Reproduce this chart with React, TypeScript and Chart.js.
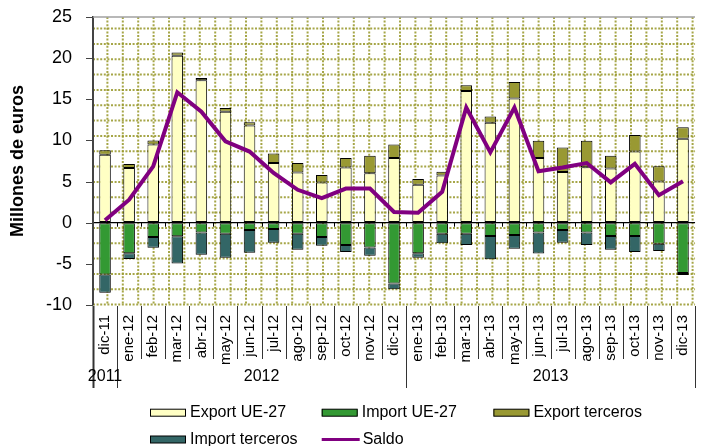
import React, { useEffect, useRef } from 'react';
import { Chart, registerables } from 'chart.js';

Chart.register(...registerables);

const categories = [
  'dic-11', 'ene-12', 'feb-12', 'mar-12', 'abr-12', 'may-12', 'jun-12', 'jul-12', 'ago-12',
  'sep-12', 'oct-12', 'nov-12', 'dic-12', 'ene-13', 'feb-13', 'mar-13', 'abr-13', 'may-13',
  'jun-13', 'jul-13', 'ago-13', 'sep-13', 'oct-13', 'nov-13', 'dic-13',
];

const exportUE = [8.25, 6.65, 9.5, 20.3, 17.3, 13.5, 11.8, 7.25, 6.1, 4.9, 6.7, 6.0, 7.85, 4.6, 5.75, 16.0, 12.15, 15.1, 7.85, 6.15, 6.75, 6.6, 8.65, 5.0, 10.2];
const exportTerceros = [0.55, 0.5, 0.5, 0.4, 0.3, 0.45, 0.4, 1.15, 1.15, 0.9, 1.15, 2.15, 1.65, 0.7, 0.45, 0.7, 0.75, 2.0, 2.1, 3.0, 3.2, 1.55, 2.0, 1.85, 1.4];
const importUE = [-6.3, -3.7, -1.75, -1.65, -1.2, -1.35, -0.9, -0.75, -1.35, -1.75, -2.7, -3.0, -7.4, -3.7, -1.35, -1.35, -1.6, -1.5, -1.2, -0.9, -1.2, -1.6, -1.6, -2.55, -6.1];
const importTerceros = [-2.2, -0.7, -1.3, -3.3, -2.7, -2.9, -2.75, -1.7, -1.95, -1.05, -0.85, -1.0, -0.7, -0.55, -1.15, -1.35, -2.85, -1.65, -2.55, -1.55, -1.5, -1.7, -1.95, -0.9, -0.25];
const saldo = [0.3, 2.8, 6.85, 15.85, 13.5, 9.9, 8.65, 6.05, 4.0, 3.0, 4.15, 4.15, 1.3, 1.2, 3.75, 14.0, 8.55, 14.0, 6.25, 6.7, 7.25, 4.9, 7.15, 3.35, 5.05];

const yTicksMin = -10;
const yTicksMax = 25;
const yTickStep = 5;

const FONT = "'Liberation Sans', Arial, Helvetica, sans-serif";

// year groups derived from the category labels
function yearGroups(labels: string[]) {
  const groups: { year: string; start: number; end: number }[] = [];
  labels.forEach((l, i) => {
    const y = '20' + l.split('-')[1];
    const last = groups[groups.length - 1];
    if (last && last.year === y) last.end = i;
    else groups.push({ year: y, start: i, end: i });
  });
  return groups;
}

const decorPlugin = {
  id: 'decor',
  beforeDraw(chart: any) {
    const { ctx, chartArea: a, width, height } = chart;
    ctx.save();
    ctx.fillStyle = '#ffffff';
    ctx.fillRect(0, 0, width, height);
    // dotted background pattern
    ctx.strokeStyle = 'rgba(150,150,40,0.85)';
    ctx.lineWidth = 2;
    ctx.setLineDash([2, 1.6]);
    for (let x = a.left + 14.4; x < a.right; x += 15.4) {
      ctx.beginPath();
      ctx.moveTo(x, a.top);
      ctx.lineTo(x, a.bottom);
      ctx.stroke();
    }
    for (let y = a.top + 11.6; y <= a.bottom + 0.5; y += 15.33) {
      ctx.beginPath();
      ctx.moveTo(a.left, y);
      ctx.lineTo(a.right, y);
      ctx.stroke();
    }
    ctx.restore();
  },
  afterDraw(chart: any) {
    const { ctx, chartArea: a } = chart;
    const xs = chart.scales.x;
    const ys = chart.scales.y;
    const n = chart.data.labels.length;
    const step = xs.getPixelForValue(1) - xs.getPixelForValue(0);
    const boundary = (k: number) => xs.getPixelForValue(k) - step / 2;
    const y0 = ys.getPixelForValue(0);
    ctx.save();
    // top border
    ctx.strokeStyle = '#a0a0a0';
    ctx.lineWidth = 1.5;
    ctx.beginPath();
    ctx.moveTo(a.left, a.top);
    ctx.lineTo(a.right, a.top);
    ctx.stroke();
    // y tick marks (outside)
    ctx.strokeStyle = '#444';
    ctx.lineWidth = 1;
    ys.ticks.forEach((t: any) => {
      const y = Math.round(ys.getPixelForValue(t.value)) + 0.5;
      ctx.beginPath();
      ctx.moveTo(a.left - 7, y);
      ctx.lineTo(a.left, y);
      ctx.stroke();
    });
    // small ticks below zero line
    ctx.strokeStyle = '#000';
    ctx.lineWidth = 1;
    for (let k = 1; k < n; k++) {
      const x = Math.round(boundary(k)) + 0.5;
      ctx.beginPath();
      ctx.moveTo(x, y0);
      ctx.lineTo(x, y0 + 4);
      ctx.stroke();
    }
    // category separators & year separators
    const groups = yearGroups(chart.data.labels);
    const yearBounds = new Set<number>();
    groups.forEach((g) => { yearBounds.add(g.start); yearBounds.add(g.end + 1); });
    ctx.strokeStyle = '#333';
    for (let k = 0; k <= n; k++) {
      const x = Math.round(boundary(k)) + 0.5;
      ctx.lineWidth = k === 0 ? 2 : 1;
      ctx.beginPath();
      ctx.moveTo(x, a.bottom + 1);
      ctx.lineTo(x, yearBounds.has(k) ? a.bottom + 83 : a.bottom + 54);
      ctx.stroke();
    }
    // year labels
    ctx.fillStyle = '#000';
    ctx.font = `16px ${FONT}`;
    ctx.textAlign = 'center';
    ctx.textBaseline = 'middle';
    groups.forEach((g) => {
      const cx = (boundary(g.start) + boundary(g.end + 1)) / 2;
      ctx.fillText(g.year, cx, a.bottom + 72);
    });
    // legend (column aligned, two rows)
    const ds = chart.data.datasets;
    const colLeft = 150;
    const colW = 171.7;
    const rowY = [412.7, 439.5];
    const perRow = 3;
    ctx.font = `16px ${FONT}`;
    ctx.textAlign = 'left';
    ds.forEach((d: any, i: number) => {
      const r = Math.floor(i / perRow);
      const c = i % perRow;
      const bx = colLeft + c * colW;
      const cy = rowY[r];
      if (d.type === 'line') {
        ctx.strokeStyle = d.borderColor;
        ctx.lineWidth = 3;
        ctx.beginPath();
        ctx.moveTo(bx, cy);
        ctx.lineTo(bx + 38, cy);
        ctx.stroke();
        ctx.fillStyle = '#000';
        ctx.fillText(d.label, bx + 41, cy);
      } else {
        ctx.fillStyle = d.backgroundColor;
        ctx.fillRect(bx, cy - 3.5, 36, 7);
        ctx.strokeStyle = '#000';
        ctx.lineWidth = 1;
        ctx.strokeRect(bx + 0.5, cy - 3.5, 35, 7);
        ctx.fillStyle = '#000';
        ctx.fillText(d.label, bx + 40, cy);
      }
    });
    ctx.restore();
  },
};

export default function App() {
  const ref = useRef<HTMLCanvasElement>(null);
  useEffect(() => {
    const canvas = ref.current!;
    Chart.defaults.font.family = FONT;
    Chart.defaults.color = '#000';
    const barCommon = { borderColor: '#000', borderWidth: 1, borderSkipped: false, order: 1 };
    const chart = new Chart(canvas, {
      type: 'bar',
      data: {
        labels: categories,
        datasets: [
          { label: 'Export UE-27', data: exportUE, backgroundColor: '#ffffc4', ...barCommon } as any,
          { label: 'Import UE-27', data: importUE, backgroundColor: '#339933', ...barCommon } as any,
          { label: 'Export terceros', data: exportTerceros, backgroundColor: '#999933', ...barCommon } as any,
          { label: 'Import terceros', data: importTerceros, backgroundColor: '#336666', ...barCommon } as any,
          {
            type: 'line', label: 'Saldo', data: saldo, borderColor: '#800080', backgroundColor: '#800080',
            borderWidth: 4, pointRadius: 0, tension: 0, fill: false, order: 0,
          } as any,
        ],
      },
      options: {
        animation: false,
        responsive: false,
        devicePixelRatio: 1,
        events: [],
        layout: { padding: { top: 17, right: 0, bottom: 0, left: 0 } },
        plugins: { legend: { display: false }, tooltip: { enabled: false } },
        datasets: { bar: { barPercentage: 0.48, categoryPercentage: 1 } } as any,
        scales: {
          x: {
            stacked: true,
            offset: true,
            grid: { display: false, drawTicks: false },
            border: { display: false },
            ticks: { autoSkip: false, minRotation: 90, maxRotation: 90, padding: 10, color: '#000', font: { size: 15 } },
            afterFit: (s: any) => { s.height = 141; },
          } as any,
          y: {
            stacked: true,
            min: yTicksMin,
            max: yTicksMax,
            ticks: { stepSize: yTickStep, padding: 5, color: '#000', font: { size: 18 } },
            grid: {
              color: (c: any) => (c.tick && c.tick.value === 0 ? '#000' : 'rgba(0,0,0,0)'),
              lineWidth: 1.2,
              tickColor: 'rgba(0,0,0,0)',
              tickLength: 16,
              drawTicks: true,
            },
            border: { display: true, color: '#444', width: 2 },
            title: {
              display: true, text: 'Millones de euros', color: '#000',
              font: { size: 18, weight: 'bold' }, padding: { top: 7, bottom: 0 },
            },
            afterFit: (s: any) => { s.width = 93; },
          } as any,
        },
      },
      plugins: [decorPlugin],
    });
    return () => chart.destroy();
  }, []);
  return (
    <div style={{ position: 'fixed', left: 0, top: 0, width: 711, height: 446, background: '#fff' }}>
      <canvas ref={ref} width={711} height={446} style={{ display: 'block', width: 711, height: 446 }} />
    </div>
  );
}
